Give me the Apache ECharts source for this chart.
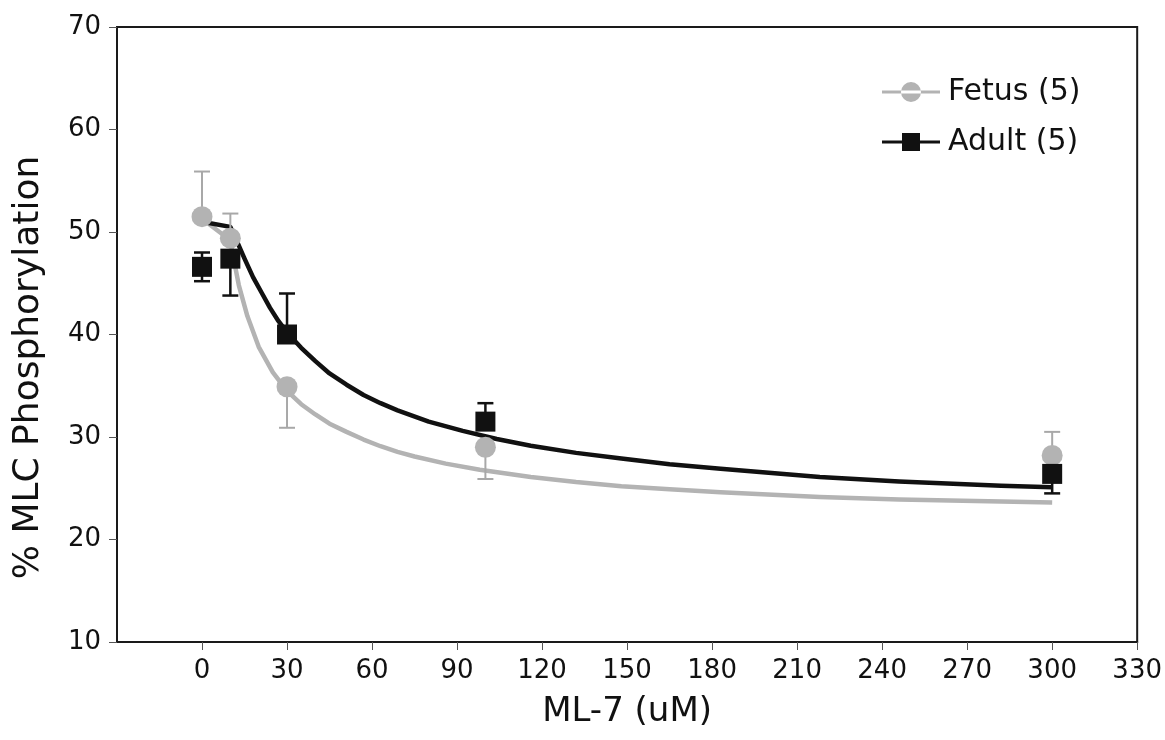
<!DOCTYPE html>
<html>
<head>
<meta charset="utf-8">
<script src="https://cdn.jsdelivr.net/npm/echarts@6/dist/echarts.min.js"></script>
<style>
  html, body { margin: 0; padding: 0; background: #ffffff; }
  #chart { width: 1165px; height: 740px; }
</style>
</head>
<body>
<div id="chart"></div>
<script>
// ML-7 dose (uM) at which MLC phosphorylation was measured
const doses = [0, 10, 30, 100, 300];

// Fetal arteries: mean and SEM, plus which side of the mean each error bar is drawn on
const fetusMean = [51.5, 49.4, 34.9, 29.0, 28.2];
const fetusSem = [4.4, 2.4, 4.0, 3.1, 2.3];
const fetusBarSide = ['up', 'up', 'down', 'down', 'up'];

// Adult arteries
const adultMean = [46.6, 47.4, 40.0, 31.5, 26.4];
const adultSem = [1.4, 3.6, 4.0, 1.8, 1.9];
const adultBarSide = ['both', 'down', 'up', 'up', 'down'];

// Fitted dose-response curves
const fetusFitX = [0, 10, 11, 13, 16, 20, 25, 30, 35, 40, 45, 51, 57, 63, 69, 75, 86, 98, 116, 132, 148, 165, 183, 218, 246, 282, 300];
const fetusFitY = [51.3, 49.2, 47.6, 44.8, 41.8, 38.8, 36.3, 34.5, 33.2, 32.2, 31.3, 30.5, 29.75, 29.1, 28.55, 28.1, 27.4, 26.8, 26.1, 25.6, 25.2, 24.9, 24.6, 24.15, 23.9, 23.7, 23.6];
const adultFitX = [0, 10, 12, 15, 18, 21, 24, 27, 30, 35, 40, 45, 51, 57, 63, 69, 80, 92, 104, 116, 132, 148, 165, 183, 218, 246, 282, 300];
const adultFitY = [51.0, 50.5, 49.3, 47.4, 45.6, 44.1, 42.6, 41.3, 40.2, 38.7, 37.4, 36.2, 35.1, 34.1, 33.3, 32.6, 31.5, 30.6, 29.8, 29.15, 28.45, 27.9, 27.35, 26.9, 26.1, 25.65, 25.25, 25.1];

// Axis ticks
const xMin = -30, xMax = 330, xStep = 30;
const xTicks = [0, 30, 60, 90, 120, 150, 180, 210, 240, 270, 300, 330];
const yMin = 10, yMax = 70, yStep = 10;

const FETUS_GREY = '#b3b3b3';
const ADULT_BLACK = '#111111';
const FONT = '"DejaVu Sans", sans-serif';

function pairs(xs, ys) { return xs.map((x, i) => [x, ys[i]]); }

function errData(mean, sem, side) {
  return doses.map((d, i) => {
    const lo = side[i] === 'up' ? mean[i] : mean[i] - sem[i];
    const hi = side[i] === 'down' ? mean[i] : mean[i] + sem[i];
    return [d, mean[i], lo, hi];
  });
}

function errRenderer(color, width, capHalf) {
  return function (params, api) {
    const x = api.value(0), m = api.value(1), lo = api.value(2), hi = api.value(3);
    const pLo = api.coord([x, lo]);
    const pHi = api.coord([x, hi]);
    const style = { stroke: color, lineWidth: width };
    const children = [{
      type: 'line', shape: { x1: pLo[0], y1: pLo[1], x2: pHi[0], y2: pHi[1] }, style: style
    }];
    if (lo < m) {
      children.push({ type: 'line', shape: { x1: pLo[0] - capHalf, y1: pLo[1], x2: pLo[0] + capHalf, y2: pLo[1] }, style: style });
    }
    if (hi > m) {
      children.push({ type: 'line', shape: { x1: pHi[0] - capHalf, y1: pHi[1], x2: pHi[0] + capHalf, y2: pHi[1] }, style: style });
    }
    return { type: 'group', children: children };
  };
}

const fetusIcon = 'path://M0,8.5L58,8.5L58,11.5L0,11.5Z M19,10A10,10 0 1,0 39,10A10,10 0 1,0 19,10Z';
const adultIcon = 'path://M0,8.5L58,8.5L58,11.5L0,11.5Z M20,1L38,1L38,19L20,19Z';

const chart = echarts.init(document.getElementById('chart'), null, { renderer: 'canvas' });
chart.setOption({
  backgroundColor: '#ffffff',
  animation: false,
  grid: {
    left: 117, right: 27, top: 27, bottom: 98,
    show: true, borderColor: '#1a1a1a', borderWidth: 2, backgroundColor: 'transparent'
  },
  legend: {
    orient: 'vertical',
    left: 877, top: 72,
    itemWidth: 58, itemHeight: 20, itemGap: 20,
    textStyle: { fontFamily: FONT, fontSize: 30, color: '#111', padding: [0, 0, 0, 3] },
    data: [
      { name: 'Fetus (5)', icon: fetusIcon },
      { name: 'Adult (5)', icon: adultIcon }
    ]
  },
  xAxis: {
    type: 'value', min: xMin, max: xMax, interval: xStep,
    name: 'ML-7 (uM)', nameLocation: 'middle', nameGap: 53,
    nameTextStyle: { fontFamily: FONT, fontSize: 34, color: '#111' },
    axisLine: { show: true, onZero: false, lineStyle: { color: '#1a1a1a', width: 2 } },
    axisTick: { show: true, length: 8, customValues: xTicks, lineStyle: { color: '#555', width: 1 } },
    axisLabel: {
      fontFamily: FONT, fontSize: 26, color: '#111', margin: 16,
      customValues: xTicks,
      formatter: v => (v < 0 ? '' : String(v))
    },
    splitLine: { show: false }
  },
  yAxis: {
    type: 'value', min: yMin, max: yMax, interval: yStep,
    name: '% MLC Phosphorylation', nameLocation: 'middle', nameGap: 70,
    nameTextStyle: { fontFamily: FONT, fontSize: 36, color: '#111', padding: [0, 66, 0, 0] },
    axisLine: { show: true, onZero: false, lineStyle: { color: '#1a1a1a', width: 2 } },
    axisTick: { show: true, length: 8, lineStyle: { color: '#555', width: 1 } },
    axisLabel: { fontFamily: FONT, fontSize: 26, color: '#111', margin: 16 },
    splitLine: { show: false }
  },
  series: [
    {
      name: 'Fetus fit', type: 'line', data: pairs(fetusFitX, fetusFitY),
      showSymbol: false, smooth: false, z: 1,
      lineStyle: { color: FETUS_GREY, width: 4.5, join: 'round' }, silent: true
    },
    {
      name: 'Adult fit', type: 'line', data: pairs(adultFitX, adultFitY),
      showSymbol: false, smooth: false, z: 2,
      lineStyle: { color: ADULT_BLACK, width: 4.5, join: 'round' }, silent: true
    },
    {
      name: 'Fetus error', type: 'custom', z: 3,
      renderItem: errRenderer('#a8a8a8', 2, 8),
      data: errData(fetusMean, fetusSem, fetusBarSide),
      encode: { x: 0, y: [2, 3] }
    },
    {
      name: 'Fetus (5)', type: 'scatter', z: 4,
      data: pairs(doses, fetusMean),
      symbol: 'circle', symbolSize: 21,
      itemStyle: { color: FETUS_GREY, opacity: 1 }
    },
    {
      name: 'Adult error', type: 'custom', z: 5,
      renderItem: errRenderer(ADULT_BLACK, 2.5, 8),
      data: errData(adultMean, adultSem, adultBarSide),
      encode: { x: 0, y: [2, 3] }
    },
    {
      name: 'Adult (5)', type: 'scatter', z: 6,
      data: pairs(doses, adultMean),
      symbol: 'rect', symbolSize: 20,
      itemStyle: { color: ADULT_BLACK, opacity: 1 }
    }
  ]
});
</script>
</body>
</html>
